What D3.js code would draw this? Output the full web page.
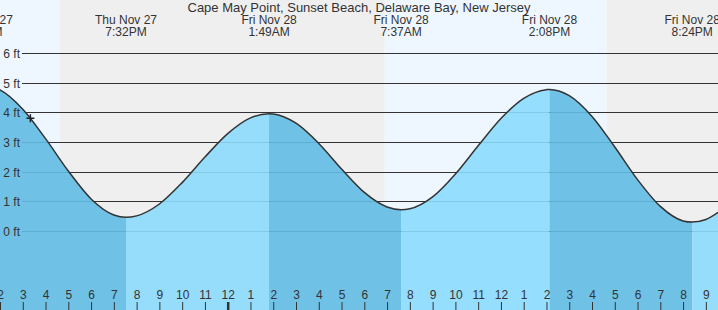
<!DOCTYPE html>
<html>
<head>
<meta charset="utf-8">
<script src="https://cdnjs.cloudflare.com/ajax/libs/d3/7.8.5/d3.min.js"></script>
<style>
  body { margin: 0; background: #fff; }
  svg { display: block; font-family: "Liberation Sans", Arial, sans-serif; }
</style>
</head>
<body>
<div id="tide"></div>
<script>
var chartTitle = "Cape May Point, Sunset Beach, Delaware Bay, New Jersey";

// hourly tide readings (ft)
var tideTimes = [
  "2025-11-27T13:00", "2025-11-27T14:00", "2025-11-27T15:00", "2025-11-27T16:00",
  "2025-11-27T17:00", "2025-11-27T18:00", "2025-11-27T19:00", "2025-11-27T20:00",
  "2025-11-27T21:00", "2025-11-27T22:00", "2025-11-27T23:00", "2025-11-28T00:00",
  "2025-11-28T01:00", "2025-11-28T02:00", "2025-11-28T03:00", "2025-11-28T04:00",
  "2025-11-28T05:00", "2025-11-28T06:00", "2025-11-28T07:00", "2025-11-28T08:00",
  "2025-11-28T09:00", "2025-11-28T10:00", "2025-11-28T11:00", "2025-11-28T12:00",
  "2025-11-28T13:00", "2025-11-28T14:00", "2025-11-28T15:00", "2025-11-28T16:00",
  "2025-11-28T17:00", "2025-11-28T18:00", "2025-11-28T19:00", "2025-11-28T20:00",
  "2025-11-28T21:00", "2025-11-28T22:00"
];
var tideFeet = [
  4.88, 4.75, 4.10, 3.11, 2.02, 1.08, 0.54, 0.51,
  0.91, 1.63, 2.49, 3.28, 3.81, 3.94, 3.63, 2.95,
  2.09, 1.30, 0.81, 0.75, 1.15, 1.92, 2.87, 3.79,
  4.47, 4.76, 4.56, 3.86, 2.83, 1.73, 0.83, 0.34,
  0.39, 0.89
];

// highs and lows
var extremeTimes = [
  "2025-11-27T13:12", "2025-11-27T19:32", "2025-11-28T01:49", "2025-11-28T07:37",
  "2025-11-28T14:08", "2025-11-28T20:24", "2025-11-29T02:45"
];
var extremeFeet = [4.9, 0.46, 3.95, 0.72, 4.77, 0.30, 4.2];
var extremeDays = ["Thu Nov 27", "Thu Nov 27", "Fri Nov 28", "Fri Nov 28", "Fri Nov 28", "Fri Nov 28", "Sat Nov 29"];
var extremeClock = ["1:12PM", "7:32PM", "1:49AM", "7:37AM", "2:08PM", "8:24PM", "2:45AM"];

var sunTimes = ["2025-11-27T16:37", "2025-11-28T06:54", "2025-11-28T16:38"];
var feetTicks = [0, 1, 2, 3, 4, 5, 6];

var nowTime = "2025-11-27T15:20";
var nowFeet = 3.8;

var w = 718, h = 310;
var parse = d3.timeParse("%Y-%m-%dT%H:%M");

var svg = d3.select("#tide").append("svg")
  .attr("width", w)
  .attr("height", h);

var x = d3.scaleTime()
  .domain([parse("2025-11-27T14:00"), parse("2025-11-28T21:32")])
  .range([0, w]);

var y = d3.scaleLinear()
  .domain([-2.66, 7.78])
  .range([h, 0]);

// day / night bands
var edges = [x.domain()[0]].concat(sunTimes.map(parse)).concat([x.domain()[1]]);
var bands = [];
for (var i = 0; i < edges.length - 1; i++) {
  bands.push({ a: edges[i], b: edges[i + 1], day: i % 2 === 0 });
}
svg.append("g").selectAll("rect")
  .data(bands)
  .enter()
  .append("rect")
  .attr("x", function(d) { return x(d.a); })
  .attr("y", 0)
  .attr("width", function(d) { return x(d.b) - x(d.a); })
  .attr("height", h)
  .attr("fill", function(d) { return d.day ? "#eef7ff" : "#efefef"; });

// grid lines
svg.append("g").selectAll("line")
  .data(feetTicks)
  .enter()
  .append("line")
  .attr("x1", 22)
  .attr("x2", w)
  .attr("y1", function(d) { return Math.round(y(d)) + 0.5; })
  .attr("y2", function(d) { return Math.round(y(d)) + 0.5; })
  .attr("stroke", "#333")
  .attr("stroke-width", 1);

// curve points = readings + extremes
var pts = tideTimes.map(function(t, i) { return { t: parse(t), v: tideFeet[i] }; })
  .concat(extremeTimes.map(function(t, i) { return { t: parse(t), v: extremeFeet[i] }; }));
pts.sort(function(a, b) { return a.t - b.t; });

var area = d3.area()
  .curve(d3.curveMonotoneX)
  .x(function(d) { return x(d.t); })
  .y0(h)
  .y1(function(d) { return y(d.v); });

var line = d3.line()
  .curve(d3.curveMonotoneX)
  .x(function(d) { return x(d.t); })
  .y(function(d) { return y(d.v); });

svg.append("clipPath")
  .attr("id", "water")
  .append("path")
  .attr("d", area(pts));

var segs = [];
for (var j = 0; j < extremeTimes.length - 1; j++) {
  segs.push({
    a: parse(extremeTimes[j]),
    b: parse(extremeTimes[j + 1]),
    falling: extremeFeet[j + 1] < extremeFeet[j]
  });
}
svg.append("g")
  .attr("clip-path", "url(#water)")
  .selectAll("rect")
  .data(segs)
  .enter()
  .append("rect")
  .attr("x", function(d) { return x(d.a); })
  .attr("y", 0)
  .attr("width", function(d) { return x(d.b) - x(d.a); })
  .attr("height", h)
  .attr("fill", function(d) { return d.falling ? "#61bbe3" : "#8cdafd"; })
  .attr("fill-opacity", 0.9);

svg.append("path")
  .attr("d", line(pts))
  .attr("fill", "none")
  .attr("stroke", "#333")
  .attr("stroke-width", 1.5);

// current time marker
var nx = x(parse(nowTime)), ny = y(nowFeet);
svg.append("path")
  .attr("d", "M" + (nx - 4) + "," + ny + "H" + (nx + 4) + "M" + nx + "," + (ny - 4) + "V" + (ny + 4))
  .attr("stroke", "#222")
  .attr("stroke-width", 1.5);

// feet labels
svg.append("g").selectAll("text")
  .data(feetTicks)
  .enter()
  .append("text")
  .attr("x", 20)
  .attr("y", function(d) { return Math.round(y(d)) + 4.5; })
  .attr("text-anchor", "end")
  .attr("font-size", 12)
  .attr("fill", "#333")
  .text(function(d) { return d + " ft"; });

// hour axis
var xAxis = d3.axisBottom(x)
  .ticks(d3.timeHour.every(1))
  .tickFormat(d3.timeFormat("%-I"))
  .tickSize(0)
  .tickPadding(0);

var ax = svg.append("g")
  .attr("transform", "translate(0," + (h - 15) + ")")
  .call(xAxis);
ax.select(".domain").remove();
ax.selectAll("text")
  .attr("font-size", 12)
  .attr("font-family", "Liberation Sans, Arial, sans-serif")
  .attr("fill", "#333")
  .attr("dy", "0.35em")
  .attr("y", 0);
ax.selectAll(".tick line")
  .attr("y1", 7)
  .attr("y2", 15)
  .attr("stroke", "#333")
  .attr("stroke-width", function(d) { return d.getHours() === 0 ? 2.5 : 1; });

// high / low labels
var lab = svg.append("g").selectAll("text")
  .data(extremeTimes)
  .enter()
  .append("text")
  .attr("text-anchor", "middle")
  .attr("font-size", 12)
  .attr("fill", "#333");
lab.append("tspan")
  .attr("x", function(d) { return x(parse(d)); })
  .attr("y", 24)
  .text(function(d, i) { return extremeDays[i]; });
lab.append("tspan")
  .attr("x", function(d) { return x(parse(d)); })
  .attr("y", 36)
  .text(function(d, i) { return extremeClock[i]; });

svg.append("text")
  .attr("x", w / 2)
  .attr("y", 12)
  .attr("text-anchor", "middle")
  .attr("font-size", 13)
  .attr("fill", "#333")
  .text(chartTitle);
</script>
</body>
</html>
